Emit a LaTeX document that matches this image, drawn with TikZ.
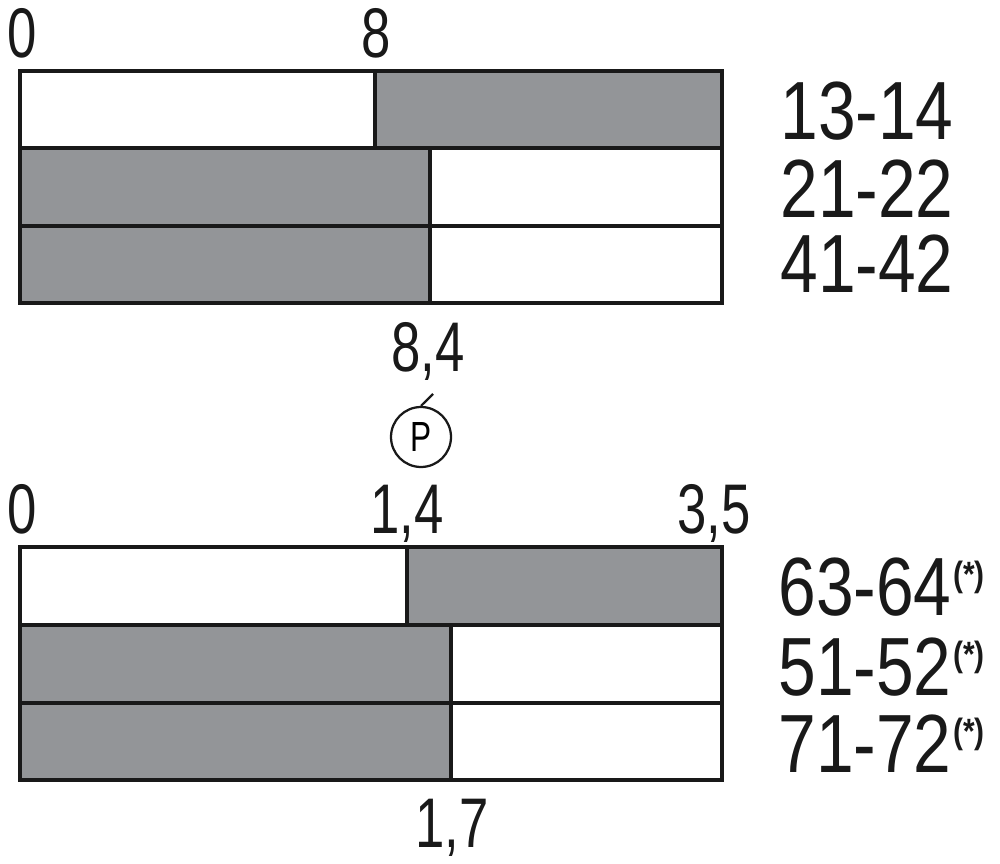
\documentclass[tikz,border=0pt]{standalone}
\usepackage{fontspec}
\newfontfamily\rowfont[FakeStretch=0.82]{Liberation Sans}
\newfontfamily\dinfont[FakeStretch=0.75]{Liberation Sans}
\newfontfamily\starfont[FakeStretch=0.85]{Liberation Sans}
\definecolor{barGray}{HTML}{939598}
\newcommand\aster{\kern1pt\raisebox{0.58cm}{\starfont\bfseries\fontsize{20}{20}\selectfont(*)}}
\begin{document}
\begin{tikzpicture}[
  x=0.02cm, y=-0.02cm,
  cell/.style={draw=black!90, line width=0.065cm},
  dark/.style={cell, fill=barGray},
  light/.style={cell, fill=white},
  rowlabel/.style={anchor=base west, inner sep=0pt, text=black!90,
    font=\rowfont\fontsize{47}{47}\selectfont},
  scalelabel/.style={anchor=base, inner sep=0pt, text=black!90,
    font=\dinfont\fontsize{40}{40}\selectfont},
  tag/.style={circle, draw=black!90, line width=0.045cm, minimum size=1.2cm,
    inner sep=0pt, font=\dinfont\fontsize{24}{24}\selectfont}
]
\useasboundingbox (0,0) rectangle (1000,864);

% Top group
\node[scalelabel] (t0) at (22,58) {0};
\node[scalelabel] (t8) at (376,58) {8};

\draw[light] (20,71) rectangle (375,148);
\draw[dark]  (375,71) rectangle (722,148);
\draw[dark]  (20,148) rectangle (430,226);
\draw[light] (430,148) rectangle (722,226);
\draw[dark]  (20,226) rectangle (430,303);
\draw[light] (430,226) rectangle (722,303);

\node[rowlabel] (r13) at (780,140) {13-14};
\node[rowlabel] (r21) at (780,218) {21-22};
\node[rowlabel] (r41) at (780,293) {41-42};

\node[scalelabel] (t84) at (428,372) {8,4};

% P mark
\node[tag] (ptag) at (421,437) {P};
\coordinate (tick) at (433,394);
\draw[black!90, line width=0.045cm] (ptag.north) -- (tick);

% Bottom group
\node[scalelabel] (b0) at (22,533) {0};
\node[scalelabel] (b14) at (407,533) {1,4};
\node[scalelabel] (b35) at (714,533) {3,5};

\draw[light] (20,547) rectangle (407,625);
\draw[dark]  (407,547) rectangle (722,625);
\draw[dark]  (20,625) rectangle (451,703);
\draw[light] (451,625) rectangle (722,703);
\draw[dark]  (20,703) rectangle (451,780);
\draw[light] (451,703) rectangle (722,780);

\node[rowlabel] (r63) at (778,615) {63-64\aster};
\node[rowlabel] (r51) at (778,695) {51-52\aster};
\node[rowlabel] (r71) at (778,772) {71-72\aster};

\node[scalelabel] (b17) at (452,847) {1,7};

\end{tikzpicture}
\end{document}
